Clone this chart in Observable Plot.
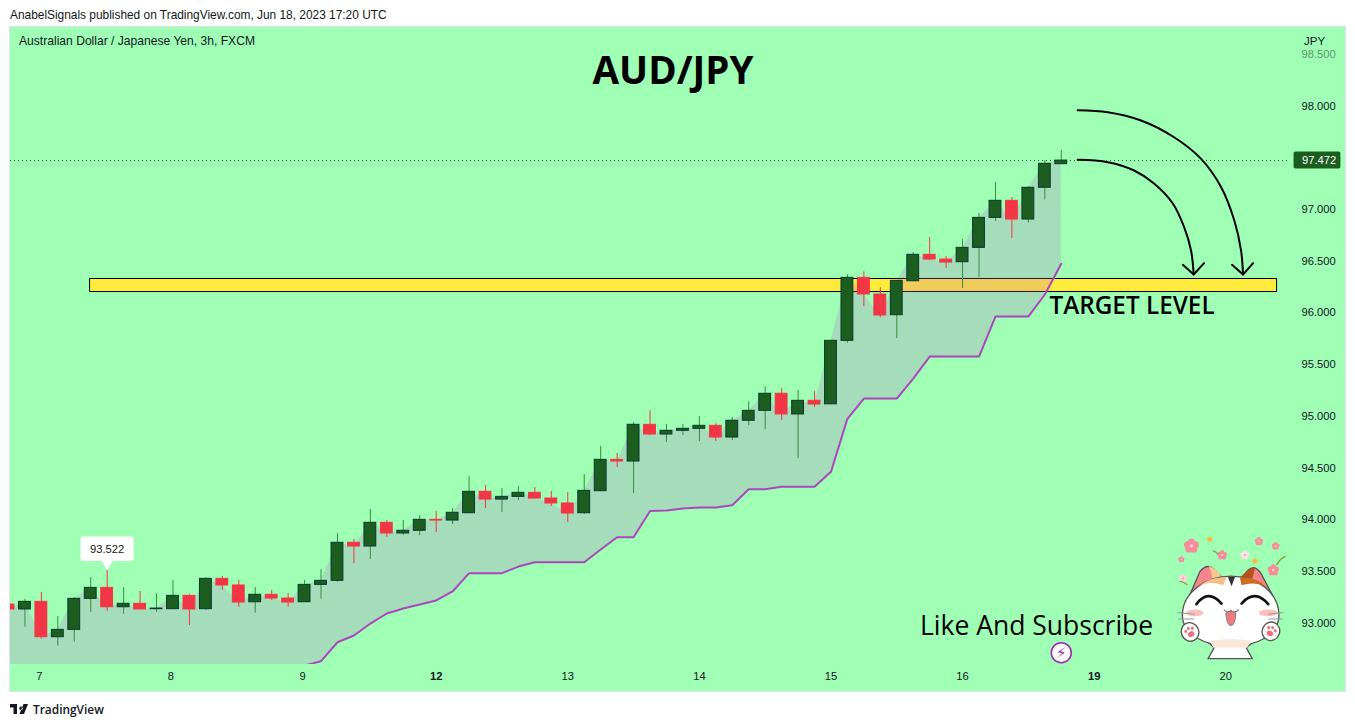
<!DOCTYPE html>
<html>
<head>
<meta charset="utf-8">
<script src="https://cdn.jsdelivr.net/npm/d3@7"></script>
<script src="https://cdn.jsdelivr.net/npm/@observablehq/plot@0.6"></script>
<style>
html,body{margin:0;padding:0;background:#fff;overflow:hidden}
#head{height:27px;margin-left:10px;font:11.9px/30px "Liberation Sans",sans-serif;color:#131722;white-space:nowrap}
#chart{margin-left:10px;width:1335px;height:664px;outline:1px solid #e0e3eb}
#chart svg{display:block}
#foot{height:36px;margin-left:10px;display:flex;align-items:center;font:600 11.9px "Open Sans",sans-serif;color:#131722;gap:5px}
</style>
</head>
<body>
<div id="head">AnabelSignals published on TradingView.com, Jun 18, 2023 17:20 UTC</div>
<div id="chart"></div>
<div id="foot"><svg width="18" height="10" viewBox="0 0 36 20"><path d="M0 0H14V20H7V7H0Z M22 5a3.5 3.5 0 1 0 .01 0Z M27 0H36L28 20H19Z" fill="#131722"/></svg><span>TradingView</span></div>
<script>
const opens = [93.179,93.131,93.205,92.863,92.934,93.234,93.340,93.153,93.186,93.134,93.134,93.263,93.134,93.427,93.363,93.201,93.273,93.237,93.201,93.369,93.408,93.776,93.740,93.969,93.866,93.892,93.998,93.991,94.062,94.269,94.194,94.220,94.259,94.204,94.156,94.062,94.275,94.578,94.562,94.917,94.823,94.859,94.878,94.907,94.794,94.956,95.052,95.217,95.017,95.149,95.115,95.729,96.338,96.177,95.977,96.305,96.561,96.515,96.489,96.628,96.918,97.083,96.902,97.209,97.437];
const highs = [93.179,93.227,93.295,93.063,93.247,93.440,93.522,93.343,93.305,93.285,93.411,93.276,93.440,93.450,93.411,93.343,93.314,93.285,93.411,93.517,93.865,93.808,94.098,93.991,93.991,94.040,94.079,94.107,94.417,94.330,94.301,94.320,94.310,94.272,94.262,94.436,94.707,94.639,94.938,95.054,94.919,94.919,94.996,94.928,94.986,95.141,95.286,95.266,95.249,95.237,95.729,96.368,96.397,96.242,96.309,96.583,96.728,96.544,96.709,96.960,97.260,97.115,97.219,97.473,97.570];
const lows = [93.131,92.959,92.843,92.776,92.814,93.102,93.114,93.085,93.131,93.104,93.134,92.976,93.121,93.317,93.153,93.095,93.218,93.153,93.201,93.230,93.395,93.575,93.614,93.827,93.846,93.846,93.875,93.953,94.062,94.107,94.069,94.185,94.204,94.127,93.972,94.050,94.275,94.504,94.252,94.813,94.746,94.813,94.755,94.755,94.765,94.909,94.870,94.957,94.590,95.083,95.115,95.706,96.059,95.954,95.750,96.305,96.505,96.428,96.235,96.341,96.883,96.719,96.870,97.092,97.437];
const closes = [93.131,93.205,92.863,92.934,93.234,93.340,93.153,93.186,93.131,93.140,93.263,93.131,93.427,93.363,93.198,93.273,93.237,93.198,93.369,93.408,93.776,93.740,93.969,93.866,93.892,93.998,93.991,94.066,94.269,94.194,94.220,94.259,94.204,94.156,94.059,94.278,94.578,94.562,94.917,94.823,94.859,94.878,94.907,94.794,94.956,95.052,95.217,95.017,95.149,95.113,95.729,96.338,96.177,95.974,96.309,96.561,96.515,96.486,96.628,96.918,97.083,96.902,97.209,97.441,97.472];
const stopLine = [92.40,92.40,92.40,92.40,92.40,92.40,92.40,92.40,92.50,92.50,92.50,92.50,92.50,92.50,92.50,92.50,92.55,92.58,92.589,92.631,92.814,92.879,92.995,93.092,93.140,93.179,93.218,93.305,93.482,93.482,93.482,93.546,93.588,93.588,93.588,93.588,93.711,93.830,93.830,94.083,94.088,94.107,94.117,94.117,94.139,94.294,94.294,94.317,94.317,94.317,94.462,94.975,95.171,95.171,95.171,95.364,95.577,95.577,95.577,95.577,95.964,95.964,95.964,96.177,96.474];

const earlyTicks = [2,10,18];
const dayTicks = [34,42,50,58,74];
const boldTicks = [26,66];
const dayLabels = {2:"7",10:"8",18:"9",26:"12",34:"13",42:"14",50:"15",58:"16",66:"19",74:"20"};
const priceTicks = [93,93.5,94,94.5,95,95.5,96,96.5,97,98];
const fadedTick = [98.5];
const lastPrice = 97.472;
const markedHigh = 93.522;
const targetZone = {x1:4.96,x2:77.12,y1:96.201,y2:96.327};
const arrowA = [[65.0,97.479],[66.83,97.456],[68.43,97.376],[69.64,97.250],[70.78,97.057],[71.47,96.828],[71.89,96.602],[72.05,96.370]];
const arrowB = [[65.0,97.959],[66.83,97.940],[68.85,97.860],[70.86,97.698],[72.50,97.489],[73.72,97.215],[74.52,96.893],[74.93,96.602],[75.05,96.370]];
const headA = [[71.39,96.464],[72.05,96.370],[72.68,96.480]];
const headB = [[74.38,96.464],[75.05,96.370],[75.66,96.480]];

const GREEN="#1b5e20", EDGE="#063a30", WICK="#388e3c", RED="#f23645", FG="#131722";
const FONT='"Liberation Sans",sans-serif';
const candles = d3.range(closes.length).map(i=>({i,o:opens[i],h:highs[i],l:lows[i],c:closes[i],s:stopLine[i],up:closes[i]>=opens[i]}));

// decorative sticker, a raster in the original
function flower(x,y,r,c,core){
  let s="";
  for(let k=0;k<5;k++){const a=k*2*Math.PI/5-Math.PI/2;s+=`<circle cx="${x+Math.cos(a)*r*.58}" cy="${y+Math.sin(a)*r*.58}" r="${r*.5}" fill="${c}"/>`;}
  return s+`<circle cx="${x}" cy="${y}" r="${r*.25}" fill="${core}"/>`;
}
function paw(x,y,rot){
  return `<g transform="translate(${x} ${y}) rotate(${rot})"><ellipse rx="26" ry="28" fill="#fff" stroke="#555" stroke-width="4"/><ellipse cy="7" rx="10" ry="8" fill="#ef6f78"/><circle cx="-11" cy="-7" r="4.5" fill="#ef6f78"/><circle cx="0" cy="-12" r="4.5" fill="#ef6f78"/><circle cx="11" cy="-7" r="4.5" fill="#ef6f78"/></g>`;
}
const sticker = `<svg xmlns="http://www.w3.org/2000/svg" viewBox="825 45 335 380" width="335" height="380">
${flower(870,78,21,"#f98b9a","#fbd0d0")}${flower(962,105,14,"#f98b9a","#fbd0d0")}${flower(1072,64,12,"#f98b9a","#fbd0d0")}${flower(1122,78,11,"#f98b9a","#fbd0d0")}${flower(1115,150,16,"#f98b9a","#fbd0d0")}${flower(840,118,9,"#f98b9a","#fbd0d0")}${flower(1030,105,13,"#fbe3e6","#f7a0aa")}${flower(845,175,12,"#fbd3d8","#f7a0aa")}${flower(925,58,8,"#f5c243","#e8a020")}${flower(1060,123,8,"#f5c243","#e8a020")}
<path d="M1125 135Q1135 115 1152 108M934 92Q945 96 950 103M835 183Q848 186 858 194" stroke="#8aa040" stroke-width="4" fill="none"/>
<path d="M890 340L938 382L920 415L1052 415L1034 382L1094 335Z" fill="#fff" stroke="#555" stroke-width="4"/>
<path d="M866 222L895 155Q915 130 935 145L975 185Z" fill="#f4858c" stroke="#555" stroke-width="4"/>
<path d="M1010 182L1040 150Q1060 132 1078 160L1112 224Z" fill="#f4858c" stroke="#555" stroke-width="4"/>
<path d="M922 138Q945 145 962 172L935 178Z" fill="#f8c890"/><path d="M1020 172Q1040 142 1060 144L1052 178Z" fill="#b9521a"/>
<path d="M843 285C843 215 915 168 988 168C1065 168 1132 215 1132 285C1132 345 1065 378 988 378C915 378 843 345 843 285Z" fill="#fff" stroke="#555" stroke-width="4"/>
<path d="M888 202Q925 168 975 172L965 195Q920 180 888 202Z" fill="#f6bf86"/><path d="M1015 172Q1060 168 1097 202Q1060 182 1020 195Z" fill="#cf6a22"/>
<path d="M979 170L990 198L1001 170Z" fill="#333"/>
<path d="M925 362Q988 350 1050 362L1036 382L936 382Z" fill="#fbe6da"/>
<path d="M885 252Q920 205 960 250M1020 250Q1060 205 1100 252" stroke="#111" stroke-width="8" fill="none" stroke-linecap="round"/>
<ellipse cx="880" cy="278" rx="26" ry="10" fill="#f9c0bc"/><ellipse cx="1100" cy="278" rx="28" ry="10" fill="#f9c0bc"/>
<path d="M828 277L880 282M830 296L878 296M1146 277L1100 282M1144 296L1100 296" stroke="#999" stroke-width="3"/>
<path d="M967 268Q978 282 988 270Q998 282 1012 268" stroke="#666" stroke-width="3" fill="none"/>
<path d="M973 278Q988 268 1003 278Q1002 315 988 316Q975 315 973 278Z" fill="#ee7b80" stroke="#777" stroke-width="2.5"/>
${paw(866,335,-25)}${paw(1108,333,25)}
</svg>`;
const stickerSrc = "data:image/svg+xml;charset=utf-8,"+encodeURIComponent(sticker);

const plot = Plot.plot({
  width:1335,height:664,marginTop:0,marginBottom:27,marginLeft:0,marginRight:55,
  style:{background:"#9fffb5",fontFamily:FONT,fontSize:"11.2px",color:FG,overflow:"visible"},
  x:{domain:[0.123,77.935]},
  y:{domain:[92.599,98.759]},
  marks:[
    Plot.axisX({ticks:earlyTicks,tickFormat:d=>dayLabels[d],tickSize:0,tickPadding:8,fill:FG,dx:-2,label:null}),
    Plot.axisX({ticks:dayTicks,tickFormat:d=>dayLabels[d],tickSize:0,tickPadding:8,fill:FG,label:null}),
    Plot.axisX({ticks:boldTicks,tickFormat:d=>dayLabels[d],tickSize:0,tickPadding:8,fill:FG,fontWeight:"bold",label:null}),
    Plot.axisY({anchor:"right",ticks:priceTicks,tickFormat:d3.format(".3f"),tickSize:0,tickPadding:11,fill:FG,textAnchor:"start",label:null}),
    Plot.axisY({anchor:"right",ticks:fadedTick,tickFormat:d3.format(".3f"),tickSize:0,tickPadding:11,fill:FG,fillOpacity:.5,textAnchor:"start",label:null}),
    Plot.ruleY([lastPrice],{stroke:GREEN,strokeWidth:1,strokeDasharray:"1,3"}),
    Plot.rect([targetZone],{x1:"x1",x2:"x2",y1:"y1",y2:"y2",fill:"#ffeb3b",stroke:"#000",strokeWidth:1}),
    Plot.areaY(candles,{x:"i",y1:"s",y2:"c",fill:"#ba60c8",fillOpacity:.22,clip:true}),
    Plot.lineY(candles,{x:"i",y:"s",stroke:"#ab47bc",strokeWidth:2,clip:true}),
    Plot.ruleX(candles.filter(d=>d.up),{x:"i",y1:"l",y2:"h",stroke:WICK,strokeWidth:1}),
    Plot.ruleX(candles.filter(d=>!d.up),{x:"i",y1:"l",y2:"h",stroke:RED,strokeWidth:1,clip:true}),
    Plot.rect(candles.filter(d=>d.up),{x1:d=>d.i-.36,x2:d=>d.i+.36,y1:"o",y2:"c",fill:GREEN,stroke:EDGE,strokeWidth:1}),
    Plot.rect(candles.filter(d=>!d.up),{x1:d=>d.i-.36,x2:d=>d.i+.36,y1:"o",y2:"c",fill:RED,stroke:RED,strokeWidth:1,clip:true}),
    Plot.line(arrowA,{curve:"catmull-rom",stroke:"#000",strokeWidth:2}),
    Plot.line(arrowB,{curve:"catmull-rom",stroke:"#000",strokeWidth:2}),
    Plot.line(headA,{stroke:"#000",strokeWidth:2}),
    Plot.line(headB,{stroke:"#000",strokeWidth:2}),
    Plot.text(["AUD/JPY"],{x:40.4,y:98.334,fontFamily:'"Open Sans",sans-serif',fontWeight:"bold",fontSize:38.5,fill:"#000"}),
    Plot.text(["TARGET LEVEL"],{x:68.3,y:96.061,fontFamily:'"Open Sans",sans-serif',fontWeight:"600",fontSize:24.3,fill:"#000"}),
    Plot.text(["Like And Subscribe"],{x:62.5,y:92.966,fontFamily:'"Open Sans",sans-serif',fontSize:26.5,fill:"#000"}),
    Plot.text(["Australian Dollar / Japanese Yen, 3h, FXCM"],{x:0.64,y:98.624,textAnchor:"start",fontSize:12.1,fill:FG}),
    Plot.text(["JPY"],{x:78.76,y:98.624,textAnchor:"start",fontSize:11.5,fill:FG}),
    Plot.rect([{x1:4.41,x2:7.64,y1:93.595,y2:93.832}],{x1:"x1",x2:"x2",y1:"y1",y2:"y2",fill:"#fff",rx:3}),
    Plot.dot([{x:6,y:93.575}],{x:"x",y:"y",symbol:"triangle",rotate:180,r:4.5,fill:"#fff"}),
    Plot.text([markedHigh],{x:6,y:93.713,text:d=>d.toFixed(3),fontSize:11.2,fill:FG}),
    Plot.rect([{x1:78.15,x2:81.0,y1:97.39,y2:97.555}],{x1:"x1",x2:"x2",y1:"y1",y2:"y2",fill:GREEN,rx:2}),
    Plot.text([lastPrice],{x:78.63,y:97.472,text:d=>d.toFixed(3),textAnchor:"start",fontSize:11.2,fill:"#fff"}),
    Plot.image([stickerSrc],{x:74.4,y:93.237,src:d=>d,width:112,height:127}),
    Plot.dot([{x:64,y:92.713}],{x:"x",y:"y",r:10,fill:"#fff",stroke:"#9c27b0",strokeWidth:1.5}),
    Plot.text(["⚡"],{x:64,y:92.713,fontFamily:'"DejaVu Sans"',fontSize:15,fill:"#9c27b0"})
  ]
});
document.getElementById("chart").append(plot);
</script>
</body>
</html>
